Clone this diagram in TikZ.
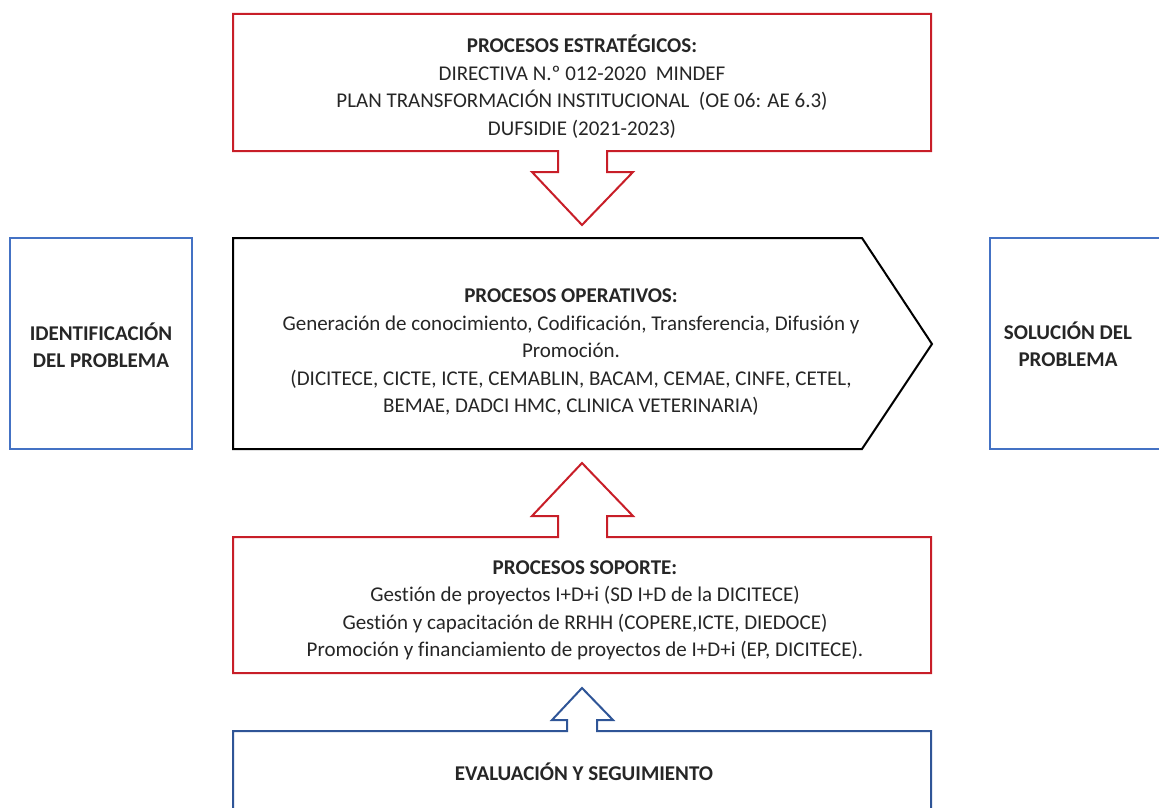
\documentclass[tikz,border=0pt]{standalone}
\usepackage{fontspec}
\setmainfont{Carlito}[Ligatures=CommonOff]
\usepackage{xcolor}
\definecolor{procred}{RGB}{200,30,40}
\definecolor{sideblue}{RGB}{68,114,196}
\definecolor{evalblue}{RGB}{47,85,151}
\definecolor{txtgray}{RGB}{38,38,38}

\begin{document}
\begin{tikzpicture}[x=1pt,y=-1pt,
    txt/.style={align=center,text=txtgray,font=\fontsize{21}{27.5}\selectfont},
    redline/.style={draw=procred,line width=2pt,fill=white,line join=miter},
    blueline/.style={draw=sideblue,line width=2pt,fill=white},
    evalline/.style={draw=evalblue,line width=2pt,fill=white}]
            \useasboundingbox (0,0) rectangle (1159,808);
            \clip (0,0) rectangle (1159,808);
            % Strategic box with down arrow
            \draw[redline] (233,14) -- (931,14) -- (931,151) -- (607,151) -- (607,172) -- (633,172)
                -- (582,225) -- (532,172) -- (558,172) -- (558,151) -- (233,151) -- cycle;
            % Operative pentagon
            \draw[draw=black,line width=2pt,fill=white] (233,238) -- (862,238) -- (932,344) -- (862,449) -- (233,449) -- cycle;
            % Support box with up arrow
            \draw[redline] (233,537) -- (558,537) -- (558,516) -- (532,516) -- (582,463) -- (633,516)
                -- (607,516) -- (607,537) -- (931,537) -- (931,673) -- (233,673) -- cycle;
            % Evaluation box with small up arrow
            \draw[evalline] (233,860) -- (233,731) -- (567,731) -- (567,720) -- (552,720) -- (582,688)
                -- (613,720) -- (597,720) -- (597,731) -- (931,731) -- (931,860);
            % Side boxes
            \draw[blueline] (10,238) rectangle (192,449);
            \draw[blueline] (990,238) rectangle (1190,449);
            % Texts
            \node[txt] (estr) at (582,86.5) {\textbf{PROCESOS ESTRATÉGICOS:}\\
                DIRECTIVA N.º 012-2020~ MINDEF\\
                PLAN TRANSFORMACIÓN INSTITUCIONAL~ (OE 06: AE 6.3)\\
                DUFSIDIE (2021-2023)};
            \node[txt] (oper) at (571,352.5) {\textbf{PROCESOS OPERATIVOS:}\\
                Generación de conocimiento, Codificación, Transferencia, Difusión y\\
                Promoción.\\
                (DICITECE, CICTE, ICTE, CEMABLIN, BACAM, CEMAE, CINFE, CETEL,\\
                BEMAE, DADCI HMC, CLINICA VETERINARIA)};
            \node[txt] (sop) at (585,610.5) {\textbf{PROCESOS SOPORTE:}\\
                Gestión de proyectos I+D+i (SD I+D de la DICITECE)\\
                Gestión y capacitación de RRHH (COPERE,ICTE, DIEDOCE)\\
                Promoción y financiamiento de proyectos de I+D+i (EP, DICITECE).};
            \node[txt] (eval) at (584,772) {\textbf{EVALUACIÓN Y SEGUIMIENTO}};
            \node[txt] (ident) at (101,345) {\textbf{IDENTIFICACIÓN}\\\textbf{DEL PROBLEMA}};
            \node[txt] (sol) at (1068,344) {\textbf{SOLUCIÓN DEL}\\\textbf{PROBLEMA}};
        \end{tikzpicture}
\end{document}
